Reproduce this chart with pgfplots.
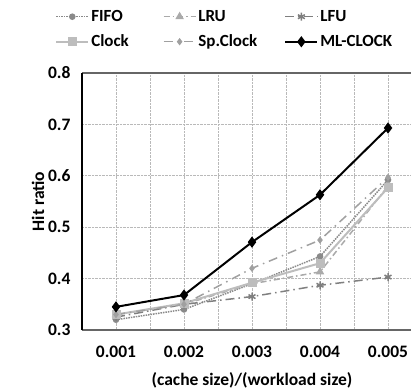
\documentclass[border=0pt]{standalone}
\usepackage{fontspec}
\setmainfont{Carlito}
\usepackage{pgfplots}
\pgfplotsset{compat=1.18}
\definecolor{cFIFO}{HTML}{8A8A8A}
\definecolor{cLRU}{HTML}{AAAAAA}
\definecolor{cLFU}{HTML}{7F7F7F}
\definecolor{cClock}{HTML}{BDBDBD}
\definecolor{cSp}{HTML}{A0A0A0}
\begin{document}
\begin{tikzpicture}[x=1pt,y=1pt]
\begin{axis}[
  at={(82pt,60pt)}, anchor=south west,
  scale only axis, width=340pt, height=257pt,
  xmin=0.5, xmax=5.5, ymin=0.3, ymax=0.8,
  xtick={1,2,3,4,5},
  xticklabels={0.001,0.002,0.003,0.004,0.005},
  minor xtick={1.5,2.5,3.5,4.5},
  ytick={0.3,0.4,0.5,0.6,0.7,0.8},
  yticklabel style={/pgf/number format/fixed,/pgf/number format/precision=1,/pgf/number format/fixed zerofill},
  /pgf/number format/assume math mode=true,
  major tick length=0pt, minor tick length=0pt,
  grid=both,
  major grid style={densely dotted, gray!55, line width=0.6pt},
  minor grid style={densely dotted, gray!55, line width=0.6pt},
  separate axis lines,
  x axis line style={gray!80!black, line width=1.5pt},
  y axis line style={black, line width=1.5pt},
  tick label style={font=\bfseries\fontsize{17.5}{20}\selectfont},
  xticklabel style={yshift=-12pt},
  yticklabel style={xshift=-8pt},
  xlabel={(cache size)/(workload size)},
  ylabel={Hit ratio},
  label style={font=\bfseries\fontsize{17.5}{20}\selectfont},
  xlabel style={yshift=-9pt},
  ylabel style={yshift=-3pt},
  legend columns=3,
  legend style={draw=none, fill=none, at={(axis description cs:-0.088,1.26)}, anchor=north west,
    font=\bfseries\fontsize{17}{20}\selectfont, row sep=8pt,
    /tikz/column 2/.style={column sep=32pt},
    /tikz/column 4/.style={column sep=25pt}},
  legend cell align=left,
  legend image code/.code={\draw[mark repeat=2,mark phase=2] plot coordinates {(0pt,0pt)(16pt,0pt)(32pt,0pt)};},
]
\addplot[cFIFO, densely dotted, line width=1.5pt, mark=*, mark size=2.5pt, mark options={solid}] coordinates {(1,0.320)(2,0.340)(3,0.390)(4,0.443)(5,0.592)};
\addlegendentry{FIFO}
\addplot[cLRU, dash pattern=on 6pt off 3pt on 1.5pt off 3pt, line width=1.5pt, mark=triangle*, mark size=3.5pt, mark options={solid}] coordinates {(1,0.330)(2,0.350)(3,0.390)(4,0.413)(5,0.580)};
\addlegendentry{LRU}
\addplot[cLFU, dash pattern=on 9pt off 4pt on 1.5pt off 4pt, line width=1.5pt, mark=asterisk, mark size=4pt, mark options={solid}] coordinates {(1,0.325)(2,0.350)(3,0.365)(4,0.387)(5,0.403)};
\addlegendentry{LFU}
\addplot[cClock, solid, line width=2pt, mark=square*, mark size=3.5pt] coordinates {(1,0.330)(2,0.352)(3,0.392)(4,0.430)(5,0.577)};
\addlegendentry{Clock}
\addplot[cSp, dash pattern=on 9pt off 5pt on 1.5pt off 5pt, line width=1.5pt, mark=diamond*, mark size=2.5pt, mark options={solid}] coordinates {(1,0.330)(2,0.350)(3,0.420)(4,0.475)(5,0.597)};
\addlegendentry{Sp.Clock}
\addplot[black, solid, line width=2pt, mark=diamond*, mark size=4pt] coordinates {(1,0.345)(2,0.368)(3,0.471)(4,0.563)(5,0.693)};
\addlegendentry{ML-CLOCK}
\end{axis}
\pgfresetboundingbox
\path (0,0) rectangle (411,390);
\end{tikzpicture}
\end{document}
